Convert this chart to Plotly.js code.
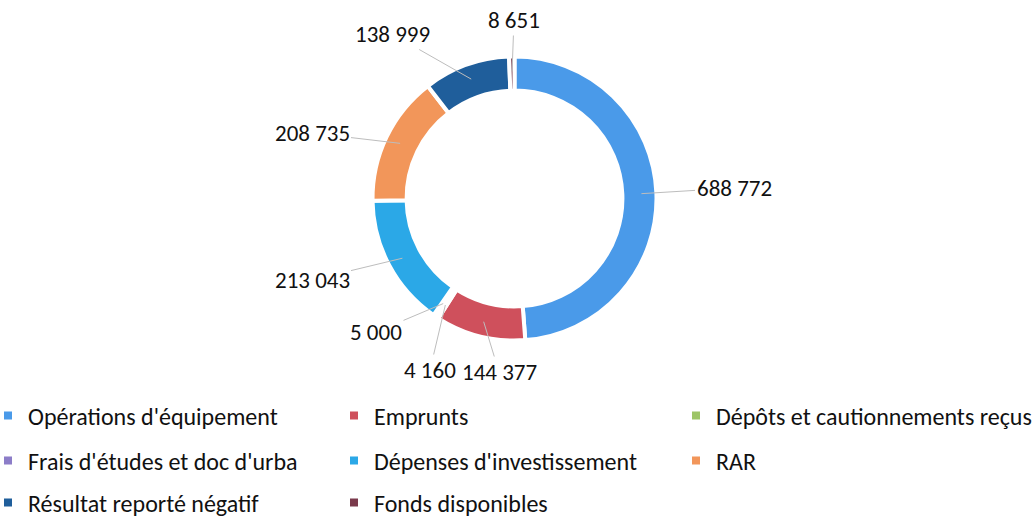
<!DOCTYPE html>
<html><head><meta charset="utf-8">
<script src="https://cdn.plot.ly/plotly-3.0.1.min.js"></script>
<style>html,body{margin:0;padding:0;background:#fff}#chart{width:1035px;height:519px}</style>
</head><body><div id="chart"></div><script>
// ---- data ----
const categories = ["Opérations d'équipement", "Emprunts", "Dépôts et cautionnements reçus",
  "Frais d'études et doc d'urba", "Dépenses d'investissement", "RAR",
  "Résultat reporté négatif", "Fonds disponibles"];
const values = [688772, 144377, 4160, 5000, 213043, 208735, 138999, 8651];

// ---- styles / layout ----
const colors = ["#4A9AE9", "#CF505C", "#9DC566", "#8C7DC8", "#2BA8E7", "#F2965A", "#1F5E9B", "#7A3A4C"];
const W = 1035, H = 519;
const FONT = "Carlito, Lato, sans-serif";
const cx = 514.5, cy = 198.5, R = 142;
const labelCenters = [[734,188],[499,372],[430,370],[376,332],[312,280],[312,133],[392,34],[514,20]];
const legendColsTextX = [29, 375, 717];
const legendRowsY = [416, 461, 503];

function fmt(v){ return String(v).replace(/\B(?=(\d{3})+(?!\d))/g, ' '); }

const total = values.reduce((a,b)=>a+b,0);
let cum = 0;
const annotations = values.map((v,i)=>{
  const mid = (cum + v/2)/total*2*Math.PI; cum += v;
  const rr = 127;
  const px = cx + rr*Math.sin(mid), py = cy - rr*Math.cos(mid);
  return {x: px/W, y: 1-py/H, xref:'paper', yref:'paper', text: fmt(values[i]),
    showarrow:true, arrowhead:0, arrowwidth:1, arrowcolor:'#bdbdbd', standoff:0,
    ax: labelCenters[i][0]-px, ay: labelCenters[i][1]-py,
    font:{family:FONT, size:23, color:'#111'}};
});

const pie = {
  type:'pie', labels: categories, values: values, sort:false, direction:'clockwise', rotation:0,
  hole:0.76, textinfo:'none', showlegend:false,
  marker:{colors: colors, line:{color:'#ffffff', width:4}},
  domain:{x:[(cx-R)/W,(cx+R)/W], y:[1-(cy+R)/H, 1-(cy-R)/H]}
};

const legendNames = categories.map((c,i)=> i===0 ? 'legend' : 'legend'+(i+1));
const legendTraces = categories.map((c,i)=>({
  type:'scatter', mode:'markers', x:[null], y:[null], name:c,
  marker:{symbol:'square', size:8, color:colors[i]},
  legend: legendNames[i], hoverinfo:'skip'
}));

const layout = {
  width: W, height: H, margin:{l:0,r:0,t:0,b:0,autoexpand:false},
  paper_bgcolor:'#fff', plot_bgcolor:'#fff',
  xaxis:{visible:false}, yaxis:{visible:false},
  font:{family:FONT, size:23, color:'#111'},
  annotations: annotations,
  showlegend:true
};
legendNames.forEach((n,i)=>{
  const col = i%3, row = Math.floor(i/3);
  layout[n] = {orientation:'h', x:(legendColsTextX[col]-41)/W, xanchor:'left',
    y:1-legendRowsY[row]/H, yanchor:'middle',
    font:{family:FONT, size:24, color:'#111'},
    bgcolor:'rgba(0,0,0,0)', itemwidth:30};
});

Plotly.newPlot('chart', [pie].concat(legendTraces), layout, {displayModeBar:false, staticPlot:true});
</script></body></html>
